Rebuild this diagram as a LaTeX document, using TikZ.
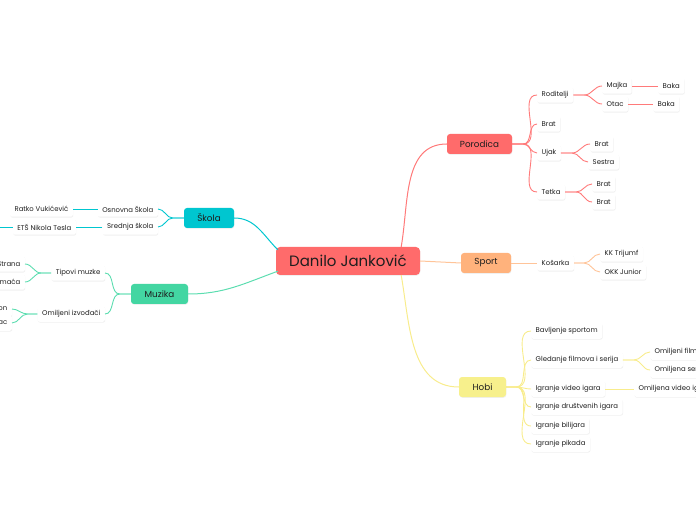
\documentclass[tikz,border=0pt]{standalone}
\usepackage{fontspec}
\setmainfont{Poppins}
\usepackage{xcolor}
\usepackage{tikz}
\usetikzlibrary{calc,shadows}

\definecolor{rootred}{HTML}{FF6B6B}
\definecolor{redline}{HTML}{FF7A7A}
\definecolor{skolateal}{HTML}{00C6D0}
\definecolor{muzikamint}{HTML}{43D6A2}
\definecolor{muzikaline}{HTML}{5CDDB0}
\definecolor{sportorange}{HTML}{FFB27C}
\definecolor{sportline}{HTML}{FFC499}
\definecolor{hobiyellow}{HTML}{F7F08C}
\definecolor{hobiline}{HTML}{F8EC8C}
\definecolor{inkdark}{HTML}{1E1E1E}

\begin{document}
\begin{tikzpicture}[x=1pt,y=1pt,
  every node/.style={text=inkdark},
  topic/.style={rounded corners=3pt,minimum height=20pt,inner xsep=6pt,
                font=\fontsize{8.8}{10}\selectfont,
                drop shadow={opacity=0.12,shadow xshift=0.4pt,shadow yshift=-0.8pt}},
  leaf/.style={fill=white,rounded corners=2pt,minimum height=15.5pt,inner xsep=4.5pt,
               inner ysep=2pt,font=\fontsize{6.9}{8}\selectfont,
               drop shadow={opacity=0.13,shadow xshift=0.4pt,shadow yshift=-0.8pt}},
  branch/.style={line width=1pt},
  twig/.style={line width=0.9pt}]

  \useasboundingbox (0,0) rectangle (696,520);
  \clip (0,0) rectangle (696,520);

  % central topic
  \node[rounded corners=4pt,fill=rootred,minimum width=144pt,minimum height=28pt,
        font=\fontsize{15}{17}\selectfont,
        drop shadow={opacity=0.12,shadow xshift=0.4pt,shadow yshift=-0.8pt}]
        (root) at (348,259) {Danilo Janković};

  % main topics
  \node[topic,fill=skolateal,minimum width=50pt] (skola) at (209,302) {Škola};
  \node[topic,fill=muzikamint,minimum width=57pt] (muzika) at (159.5,226) {Muzika};
  \node[topic,fill=rootred,minimum width=65pt] (porodica) at (479.5,376) {Porodica};
  \node[topic,fill=sportorange,minimum width=50pt] (sport) at (486,257) {Sport};
  \node[topic,fill=hobiyellow,minimum width=47pt] (hobi) at (482.5,133) {Hobi};

  \draw[branch,redline] ($(root.north east)+(-19,0)$) to[out=80,in=180] (porodica.west);
  \draw[branch,sportline] (root.east) -- (sport.west);
  \draw[branch,hobiline] ($(root.south east)+(-19,0)$) to[out=-80,in=180] (hobi.west);
  \draw[branch,skolateal] ($(root.north west)+(2,-3)$) to[out=135,in=0] (skola.east);
  \draw[branch,muzikaline] ($(root.south west)+(2,4)$) to[out=200,in=0] (muzika.east);

  % Skola
  \node[leaf,anchor=east] (osnovna) at (158,311) {Osnovna Škola};
  \node[leaf,anchor=east] (srednja) at (158,293) {Srednja škola};
  \node[leaf,anchor=east] (ratko) at (73,311) {Ratko Vukićević};
  \node[leaf,anchor=east] (ets) at (76,293) {ETŠ Nikola Tesla};
  \coordinate (etsend) at (-10,293);
  \foreach \c in {osnovna,srednja}
    \draw[twig,skolateal] (skola.west) -- ++(-11,0) to[out=180,in=0] (\c.east);
  \draw[twig,skolateal] (osnovna.west) -- (ratko.east);
  \draw[twig,skolateal] (srednja.west) -- (ets.east);
  \draw[twig,skolateal] (ets.west) -- (etsend);

  % Muzika
  \node[leaf,anchor=east] (tipovi) at (105,247) {Tipovi muzke};
  \node[leaf,anchor=east] (izvodaci) at (105,206) {Omiljeni izvođači};
  \node[leaf,anchor=east,text width=30pt,align=right] (strana) at (25,256) {Strana};
  \node[leaf,anchor=east,text width=30pt,align=right] (domaca) at (25,238) {maća};
  \node[leaf,anchor=east,text width=20pt,align=right] (izvon) at (12,211) {on};
  \node[leaf,anchor=east,text width=20pt,align=right] (izvac) at (12,197) {ac};
  \foreach \c in {tipovi,izvodaci}
    \draw[twig,muzikaline] (muzika.west) -- ++(-11,0) to[out=180,in=0] (\c.east);
  \foreach \c in {strana,domaca}
    \draw[twig,muzikaline] (tipovi.west) -- ++(-10,0) to[out=180,in=0] (\c.east);
  \foreach \c in {izvon,izvac}
    \draw[twig,muzikaline] (izvodaci.west) -- ++(-10,0) to[out=180,in=0] (\c.east);

  % Porodica
  \node[leaf,anchor=west] (roditelji) at (537,425) {Roditelji};
  \node[leaf,anchor=west] (brat) at (537,396) {Brat};
  \node[leaf,anchor=west] (ujak) at (537,367) {Ujak};
  \node[leaf,anchor=west] (tetka) at (537,328) {Tetka};
  \node[leaf,anchor=west] (majka) at (602,434) {Majka};
  \node[leaf,anchor=west] (otac) at (602,416) {Otac};
  \node[leaf,anchor=west] (bakam) at (658,434) {Baka};
  \node[leaf,anchor=west] (bakao) at (653,416) {Baka};
  \node[leaf,anchor=west] (ujakbrat) at (590,376) {Brat};
  \node[leaf,anchor=west] (ujaksestra) at (588,358) {Sestra};
  \node[leaf,anchor=west] (tetkabrat) at (592,336) {Brat};
  \node[leaf,anchor=west] (tetkabrat2) at (592,318) {Brat};
  \foreach \c in {roditelji,brat,ujak,tetka}
    \draw[twig,redline] (porodica.east) -- ++(11,0) to[out=0,in=180] (\c.west);
  \foreach \c in {majka,otac}
    \draw[twig,redline] (roditelji.east) -- ++(11,0) to[out=0,in=180] (\c.west);
  \draw[twig,redline] (majka.east) -- (bakam.west);
  \draw[twig,redline] (otac.east) -- (bakao.west);
  \foreach \c in {ujakbrat,ujaksestra}
    \draw[twig,redline] (ujak.east) -- ++(11,0) to[out=0,in=180] (\c.west);
  \foreach \c in {tetkabrat,tetkabrat2}
    \draw[twig,redline] (tetka.east) -- ++(11,0) to[out=0,in=180] (\c.west);

  % Sport
  \node[leaf,anchor=west] (kosarka) at (537,257) {Košarka};
  \node[leaf,anchor=west] (trijumf) at (600,266) {KK Trijumf};
  \node[leaf,anchor=west] (junior) at (600,248) {OKK Junior};
  \draw[twig,sportline] (sport.east) -- (kosarka.west);
  \foreach \c in {trijumf,junior}
    \draw[twig,sportline] (kosarka.east) -- ++(10,0) to[out=0,in=180] (\c.west);

  % Hobi
  \node[leaf,anchor=west] (sportom) at (531,189) {Bavljenje sportom};
  \node[leaf,anchor=west] (gledanje) at (531,160) {Gledanje filmova i serija};
  \node[leaf,anchor=west] (videoigre) at (531,131) {Igranje video igara};
  \node[leaf,anchor=west] (drustvene) at (531,113) {Igranje društvenih igara};
  \node[leaf,anchor=west] (bilijar) at (531,94) {Igranje bilijara};
  \node[leaf,anchor=west] (pikado) at (531,76) {Igranje pikada};
  \node[leaf,anchor=west] (filmovi) at (650,168) {Omiljeni filmovi};
  \node[leaf,anchor=west] (serija) at (650,150) {Omiljena serija};
  \node[leaf,anchor=west] (videoigra) at (634,131) {Omiljena video igra};
  \foreach \c in {sportom,gledanje,videoigre,drustvene,bilijar,pikado}
    \draw[twig,hobiline] (hobi.east) -- ++(10,0) to[out=0,in=180] (\c.west);
  \foreach \c in {filmovi,serija}
    \draw[twig,hobiline] (gledanje.east) -- ++(11,0) to[out=0,in=180] (\c.west);
  \draw[twig,hobiline] (videoigre.east) -- (videoigra.west);
\end{tikzpicture}
\end{document}
